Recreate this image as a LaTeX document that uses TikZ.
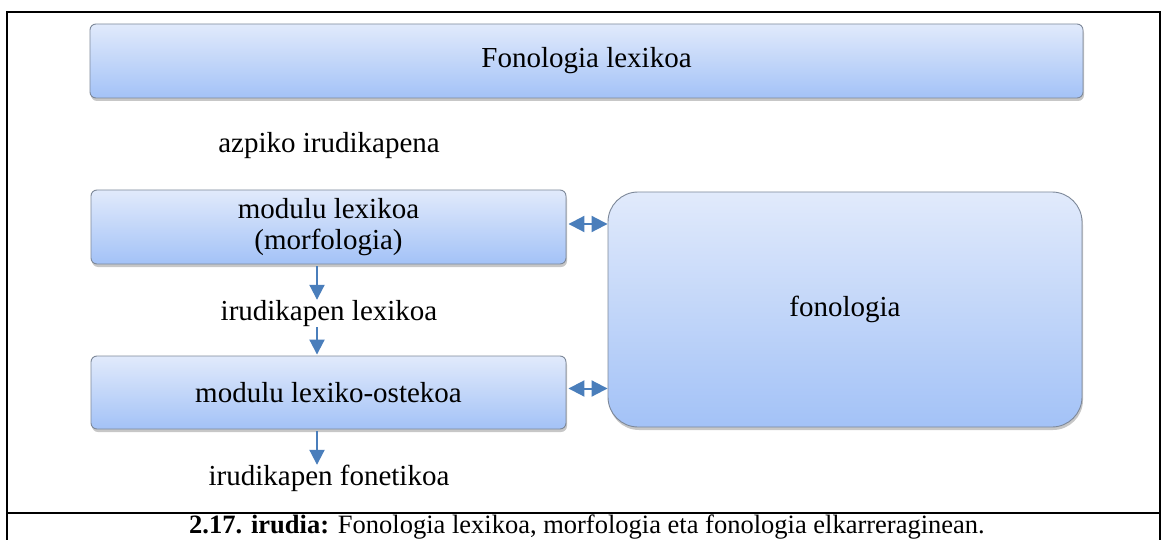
\documentclass[tikz,border=0pt]{standalone}
\usepackage{fontspec}
\setmainfont{Liberation Serif}
\usetikzlibrary{arrows.meta,shadows}
\definecolor{boxtop}{HTML}{E1EAFB}
\definecolor{boxbot}{HTML}{A3C2F7}
\definecolor{boxedge}{HTML}{7D8899}
\definecolor{arrowblue}{HTML}{4A7EBB}
\tikzset{
  bluebox/.style={draw=boxedge, line width=0.9pt, rounded corners=6pt,
    top color=boxtop, bottom color=boxbot, inner sep=0pt, align=center,
    drop shadow={shadow xshift=1pt, shadow yshift=-3pt, opacity=0.22, fill=black},
    font=\fontsize{29}{31}\selectfont},
  bigbox/.style={bluebox, rounded corners=30pt},
  label/.style={inner sep=0pt, text height=20pt, text depth=6pt,
    font=\fontsize{29}{31}\selectfont},
  flow/.style={draw=arrowblue, line width=2pt,
    -{Triangle[width=15pt,length=15pt]}},
  link/.style={draw=arrowblue, line width=2pt,
    {Triangle[width=16pt,length=16pt]}-{Triangle[width=16pt,length=16pt]}},
  frame/.style={line width=2.2pt}
}
\begin{document}
\begin{tikzpicture}[x=1pt,y=-1pt]
\useasboundingbox (0,0) rectangle (1161,540);
\fill[white] (0,0) rectangle (1161,540);

% outer frame and caption rule
\draw[frame] (7,540) -- (7,12) -- (1160,12) -- (1160,540);
\draw[frame] (7,513) -- (1160,513);

% boxes
\node[bluebox, minimum width=993pt, minimum height=74pt] (lexphon) at (586.5,61) {Fonologia lexikoa};
\node[bluebox, minimum width=475pt, minimum height=74pt] (lexmod) at (328.5,227) {modulu lexikoa\\(morfologia)};
\node[bluebox, minimum width=475pt, minimum height=73pt] (postmod) at (328.5,392.5) {modulu lexiko-ostekoa};
\node[bigbox, minimum width=474pt, minimum height=235pt] (phon) at (845,309.5) {fonologia};

% free labels
\node[label] (under) at (329,146) {azpiko irudikapena};
\node[label] (lexrep) at (329,313) {irudikapen lexikoa};
\node[label] (phonrep) at (329,478) {irudikapen fonetikoa};

% caption
\node[inner sep=0pt, font=\fontsize{26.5}{28}\selectfont] (caption) at (587,527)
  {\textbf{2.17. irudia:} Fonologia lexikoa, morfologia eta fonologia elkarreraginean.};

% flow arrows
\coordinate (axis) at (317,0);
\draw[flow, shorten <=2pt] (lexmod.south -| axis) -- (lexrep.north -| axis);
\draw[flow, shorten <=1pt, shorten >=1pt] (lexrep.south -| axis) -- (postmod.north -| axis);
\draw[flow, shorten <=2pt] (postmod.south -| axis) -- (phonrep.north -| axis);

% interaction arrows
\draw[link, shorten <=2pt] ([yshift=3pt]lexmod.east) -- ([yshift=3pt]lexmod.east -| phon.west);
\draw[link, shorten <=2pt] ([yshift=4pt]postmod.east) -- ([yshift=4pt]postmod.east -| phon.west);
\end{tikzpicture}
\end{document}
